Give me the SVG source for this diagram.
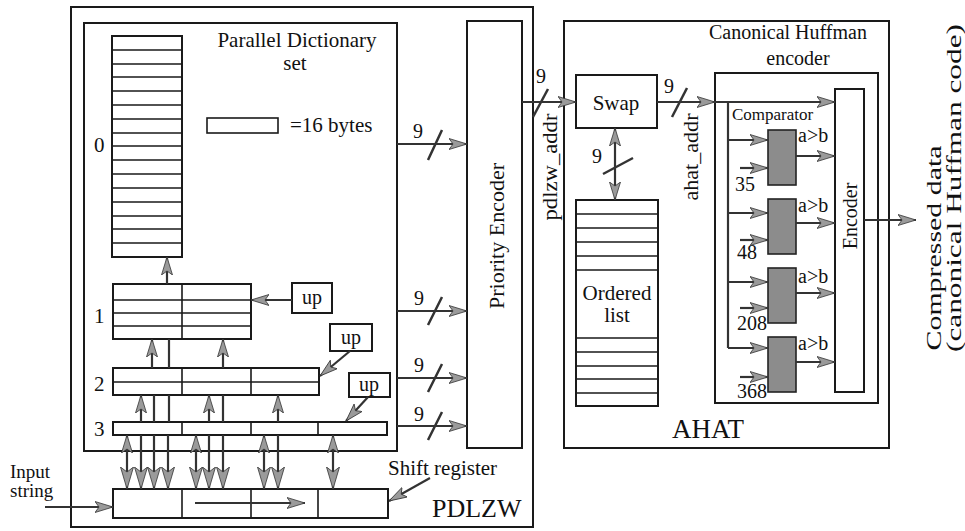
<svg xmlns="http://www.w3.org/2000/svg" width="965" height="531" viewBox="0 0 965 531" font-family="'Liberation Serif', 'DejaVu Serif', serif">
<defs>
<marker id="ah" markerUnits="userSpaceOnUse" markerWidth="20" markerHeight="12" refX="18" refY="6" orient="auto">
<path d="M0,0.5 L18,6 L0,11.5 L4,6 Z" fill="#9a9a9a" stroke="#333" stroke-width="0.8"/>
</marker>
<marker id="ah2" markerUnits="userSpaceOnUse" markerWidth="20" markerHeight="12" refX="18" refY="6" orient="auto-start-reverse">
<path d="M0,0.5 L18,6 L0,11.5 L4,6 Z" fill="#9a9a9a" stroke="#333" stroke-width="0.8"/>
</marker>
<marker id="ahb" markerUnits="userSpaceOnUse" markerWidth="24" markerHeight="14" refX="22" refY="7" orient="auto">
<path d="M0,0.5 L22,7 L0,13.5 L5,7 Z" fill="#9a9a9a" stroke="#333" stroke-width="0.8"/>
</marker>
</defs>
<style>
text{font-family:'Liberation Serif','DejaVu Serif',serif;fill:#111}
.box{fill:none;stroke:#1a1a1a;stroke-width:2}
.thin{stroke:#1a1a1a;stroke-width:1.6;fill:none}
.ln{stroke:#333;stroke-width:2.2;fill:none}
.arr{stroke:#333;stroke-width:2.2;fill:none;marker-end:url(#ah)}
.arrb{stroke:#333;stroke-width:2.2;fill:none;marker-end:url(#ahb)}
.bi{stroke:#333;stroke-width:2.2;fill:none;marker-start:url(#ah2);marker-end:url(#ahb)}
.bi2{stroke:#333;stroke-width:2.2;fill:none;marker-start:url(#ah2);marker-end:url(#ah2)}
.sl{stroke:#333;stroke-width:2.5}
.cmp{fill:#8c8c8c;stroke:#222;stroke-width:1.6}
.t21{font-size:21px}
.t20{font-size:20px}
</style>

<g id="pdlzw">
<rect class="box" x="71" y="7" width="462" height="520"/>
<text x="432" y="517" style="font-size:26px">PDLZW</text>
</g>

<g id="dictionary-set">
<rect class="box" x="84" y="23" width="313" height="428"/>
<text class="t21" x="297" y="47" text-anchor="middle">Parallel Dictionary</text>
<text class="t21" x="295" y="70" text-anchor="middle">set</text>
<rect class="thin" x="207" y="118" width="71" height="15"/>
<text class="t21" x="290" y="132">=16 bytes</text>
</g>

<g id="dict0">
<rect class="box" x="112" y="36" width="70" height="221"/>
<path class="thin" d="M112,50H182M112,64H182M112,77H182M112,91H182M112,105H182M112,119H182M112,133H182M112,146H182M112,160H182M112,174H182M112,188H182M112,202H182M112,216H182M112,229H182M112,243H182"/>
<text class="t21" x="94" y="152">0</text>
</g>

<g id="dict1">
<rect class="box" x="113" y="284" width="138" height="55"/>
<path class="thin" d="M113,300H251M113,313H251M113,326H251M182,284V339"/>
<text class="t21" x="94" y="323">1</text>
</g>

<g id="dict2">
<rect class="box" x="113" y="368" width="206" height="27"/>
<path class="thin" d="M113,382H319M182,368V395M251,368V395"/>
<text class="t21" x="94" y="391">2</text>
</g>

<g id="dict3">
<rect class="box" x="113" y="422" width="274" height="13"/>
<path class="thin" d="M182,422V435M251,422V435M318,422V435"/>
<text class="t21" x="94" y="436">3</text>
</g>

<g id="up1">
<rect class="box" x="292" y="283" width="40" height="30"/>
<text class="t20" x="312" y="304" text-anchor="middle">up</text>
</g>
<g id="up2">
<rect class="box" x="330" y="324" width="42" height="27"/>
<text class="t20" x="351" y="344" text-anchor="middle">up</text>
</g>
<g id="up3">
<rect class="box" x="349" y="373" width="41" height="24"/>
<text class="t20" x="369" y="391" text-anchor="middle">up</text>
</g>

<g id="shift-register">
<rect class="box" x="113" y="489" width="275" height="29"/>
<path class="thin" d="M182,489V518M251,489V518M318,489V518"/>
<text class="t21" x="388" y="475">Shift register</text>
</g>

<g id="input-string">
<text x="10" y="478" style="font-size:19px">Input</text>
<text x="10" y="497" style="font-size:19px">string</text>
</g>

<g id="priority-encoder">
<rect class="box" x="467" y="21" width="55" height="427"/>
<text transform="translate(504,236) rotate(-90)" text-anchor="middle" style="font-size:22px">Priority Encoder</text>
</g>

<g id="ahat">
<rect class="box" x="564" y="21" width="325" height="427"/>
<text x="672" y="438" style="font-size:27px">AHAT</text>
</g>

<g id="swap">
<rect class="box" x="576" y="75" width="81" height="53"/>
<text class="t21" x="616" y="110" text-anchor="middle">Swap</text>
</g>

<g id="ordered-list">
<rect class="box" x="576" y="200" width="82" height="206"/>
<path class="thin" d="M576,214H658M576,228H658M576,242H658M576,256H658M576,270H658M576,338H658M576,352H658M576,366H658M576,379H658M576,393H658"/>
<text class="t21" x="617" y="300" text-anchor="middle">Ordered</text>
<text class="t21" x="617" y="322" text-anchor="middle">list</text>
</g>

<g id="huffman-encoder">
<rect class="box" x="715" y="73" width="163" height="330"/>
<text class="t20" x="709" y="39">Canonical Huffman</text>
<text class="t20" x="798" y="65" text-anchor="middle">encoder</text>
<text x="732" y="120" style="font-size:17px">Comparator</text>
</g>

<g id="encoder">
<rect class="box" x="835" y="89" width="29" height="303"/>
<text class="t20" transform="translate(857,216) rotate(-90)" text-anchor="middle">Encoder</text>
</g>

<g id="comparator1">
<rect class="cmp" x="768" y="130" width="28" height="55"/>
<text class="t20" x="798" y="142">a&gt;b</text>
<text class="t20" x="735" y="191">35</text>
</g>
<g id="comparator2">
<rect class="cmp" x="768" y="199" width="28" height="55"/>
<text class="t20" x="798" y="212">a&gt;b</text>
<text class="t20" x="737" y="259">48</text>
</g>
<g id="comparator3">
<rect class="cmp" x="768" y="268" width="28" height="55"/>
<text class="t20" x="798" y="283">a&gt;b</text>
<text class="t20" x="737" y="330">208</text>
</g>
<g id="comparator4">
<rect class="cmp" x="768" y="337" width="28" height="55"/>
<text class="t20" x="798" y="350">a&gt;b</text>
<text class="t20" x="737" y="398">368</text>
</g>

<g id="output">
<text class="t21" transform="translate(941,248) rotate(-90)" text-anchor="middle" textLength="205" lengthAdjust="spacingAndGlyphs">Compressed data</text>
<text class="t21" transform="translate(961,188) rotate(-90)" text-anchor="middle" textLength="328" lengthAdjust="spacingAndGlyphs">(canonical Huffman code)</text>
</g>

<g id="connectors">
<path class="arr" d="M167,284V257"/>
<path class="arr" d="M292,300H251"/>
<path class="arr" d="M350,351L320,376"/>
<path class="arr" d="M368,397L346,421"/>
<path class="arr" d="M152,368V339"/>
<path class="arr" d="M223,368V339"/>
<path class="ln" d="M169,368V339"/>
<path class="arr" d="M141,422V395"/>
<path class="arr" d="M209,422V395"/>
<path class="arr" d="M278,422V395"/>
<path class="ln" d="M154,422V395M169,422V395M223,422V395"/>
<path class="bi" d="M127,435V489"/>
<path class="bi" d="M196,435V489"/>
<path class="bi" d="M264,435V489"/>
<path class="bi" d="M333,435V489"/>
<path class="arrb" d="M141,435V489"/>
<path class="arrb" d="M154,435V489"/>
<path class="arrb" d="M168,435V489"/>
<path class="arrb" d="M209,435V489"/>
<path class="arrb" d="M223,435V489"/>
<path class="arrb" d="M278,435V489"/>
<path class="arr" d="M195,503H305"/>
<path class="arr" d="M45,507H113"/>
<path class="arr" d="M430,478L389,501"/>
<path class="arr" d="M397,144H467"/>
<path class="arr" d="M397,311H467"/>
<path class="arr" d="M397,378H467"/>
<path class="arr" d="M397,426H467"/>
<path class="sl" d="M428,160L442,130M428,325L442,297M428,392L442,364M428,440L442,412"/>
<text class="t20" x="413" y="138">9</text>
<text class="t20" x="414" y="305">9</text>
<text class="t20" x="414" y="372">9</text>
<text class="t20" x="414" y="421">9</text>
<path class="arr" d="M522,102H576"/>
<path class="sl" d="M533,117L548,89"/>
<text class="t20" x="536" y="83">9</text>
<text class="t20" transform="translate(557,167) rotate(-90)" text-anchor="middle" textLength="107" lengthAdjust="spacingAndGlyphs">pdlzw_addr</text>
<path class="bi2" d="M615,128V200"/>
<path class="sl" d="M603,174L633,158"/>
<text class="t20" x="592" y="163">9</text>
<path class="arr" d="M657,102H715"/>
<path class="arr" d="M715,102H835"/>
<path class="sl" d="M672,117L687,88"/>
<text class="t20" x="664" y="93">9</text>
<text class="t20" transform="translate(698,157) rotate(-90)" text-anchor="middle" textLength="87" lengthAdjust="spacingAndGlyphs">ahat_addr</text>
<path class="ln" d="M728,102V348"/>
<path class="arr" d="M728,140H768"/>
<path class="arr" d="M728,213H768"/>
<path class="arr" d="M728,282H768"/>
<path class="arr" d="M728,348H768"/>
<path class="arr" d="M740,168H768"/>
<path class="arr" d="M740,240H768"/>
<path class="arr" d="M740,308H768"/>
<path class="arr" d="M740,377H768"/>
<path class="arr" d="M796,156H835"/>
<path class="arr" d="M796,223H835"/>
<path class="arr" d="M796,293H835"/>
<path class="arr" d="M796,362H835"/>
<path class="arr" d="M864,220H916"/>
</g>
</svg>
